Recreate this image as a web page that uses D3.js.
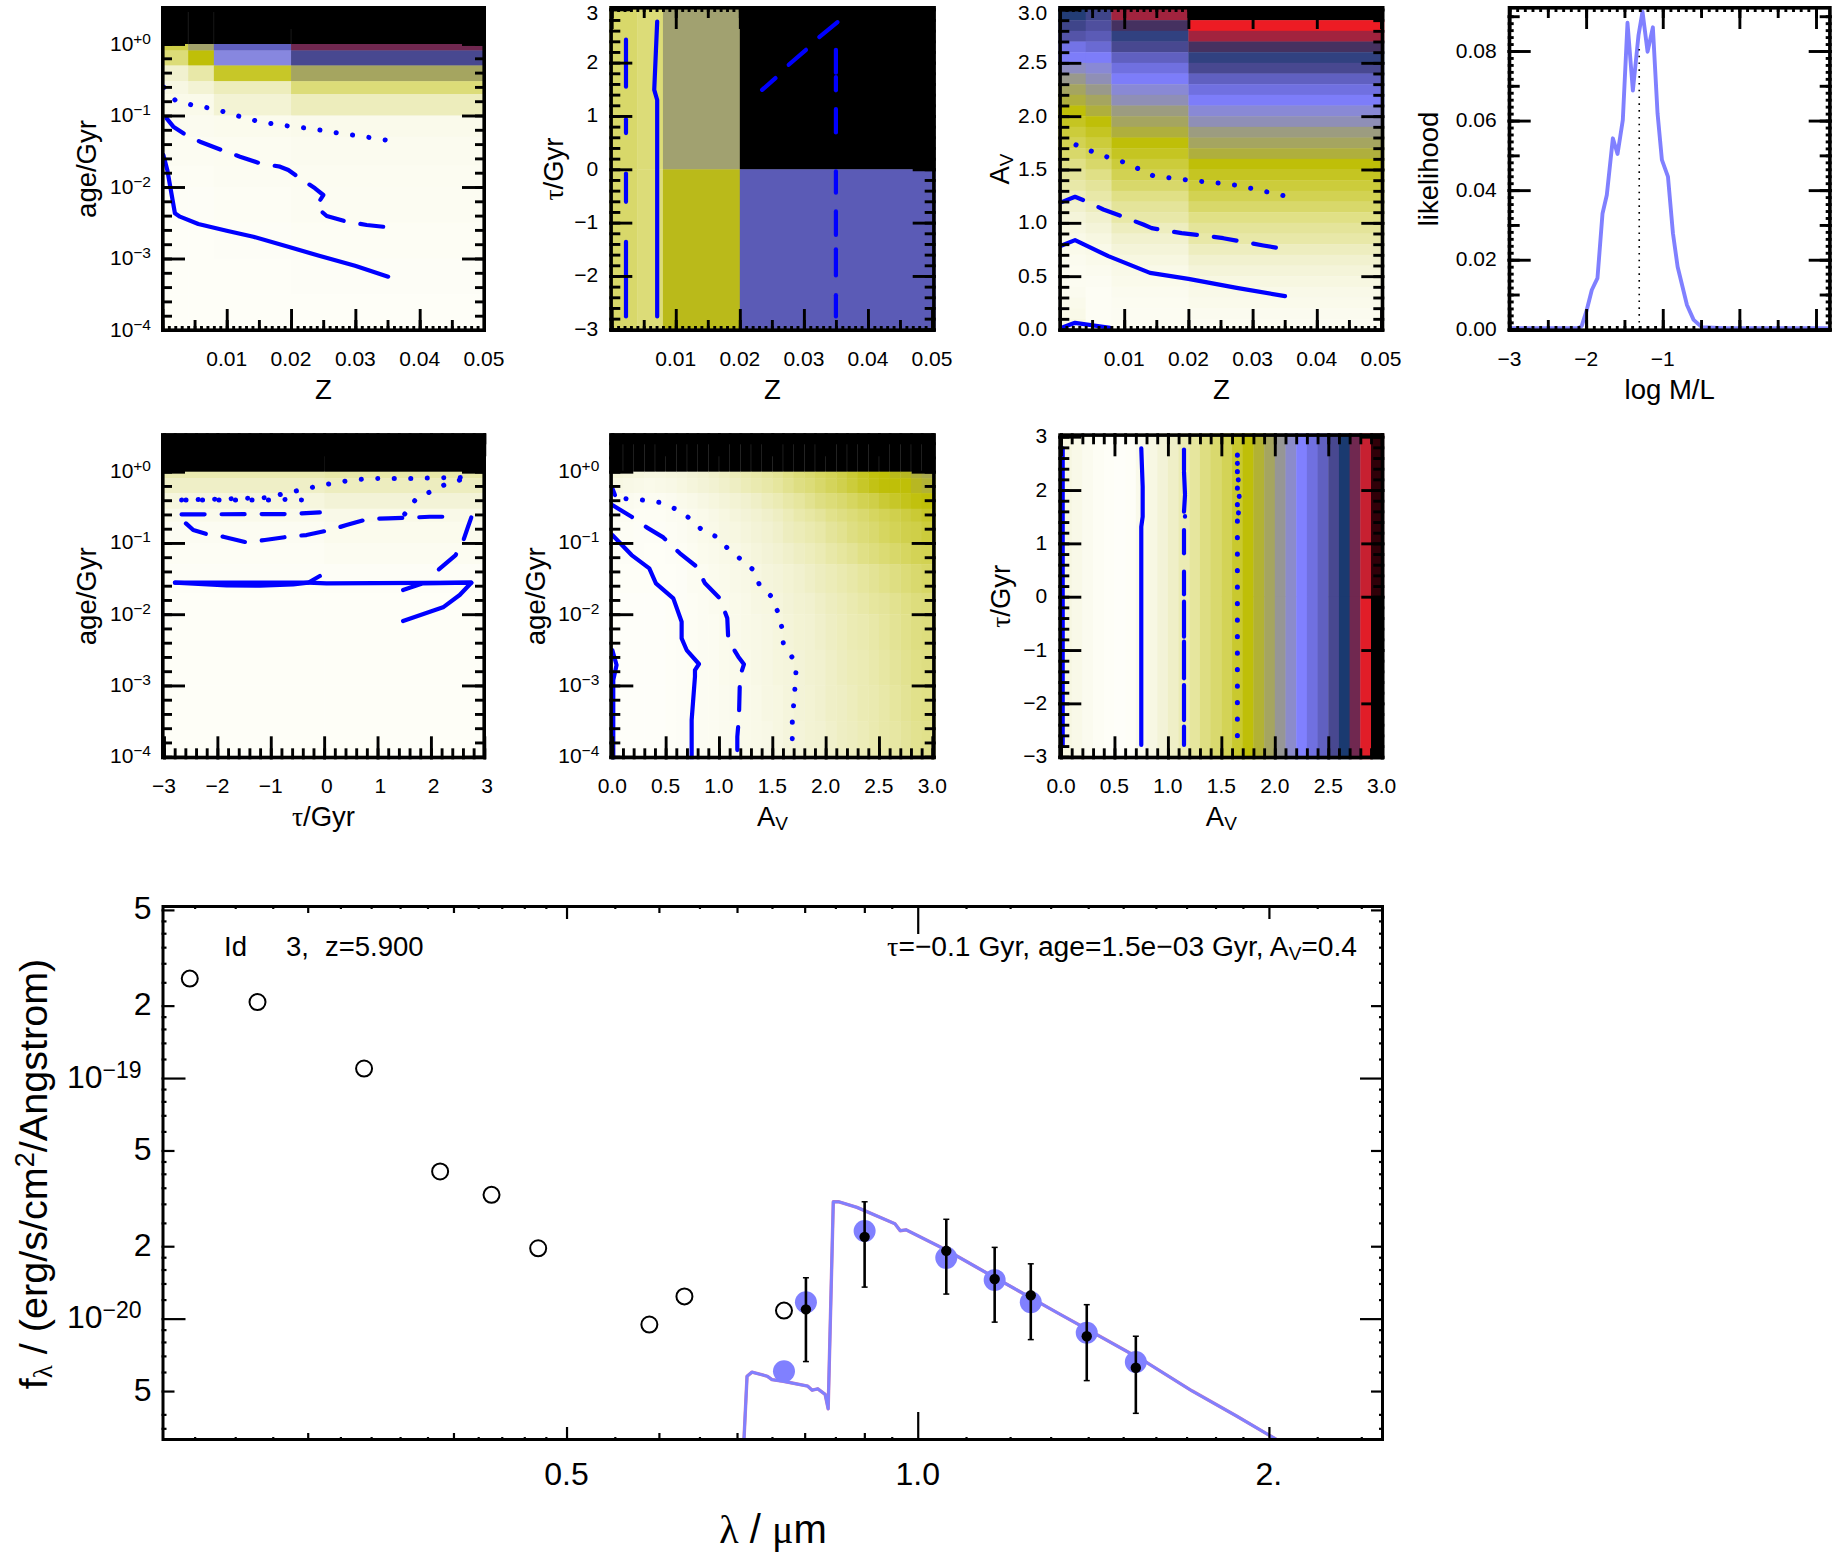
<!DOCTYPE html>
<html><head><meta charset="utf-8">
<script src="https://cdn.jsdelivr.net/npm/d3@7/dist/d3.min.js"></script>
<style>
html,body{margin:0;padding:0;background:#fff}
svg{display:block}
text{font-family:"Liberation Sans",Arial,sans-serif;fill:#000}
.g{font-family:"Liberation Serif",serif}
</style></head><body>
<svg id="c" width="1833" height="1567"></svg>
<script>
// colour levels
const levelStops=[0,1,2,3,4,5,6,7,8,9,10,11,12,13,14,15,16];
const levelColors=["#fefef9","#f9f9e8","#f1f1cf","#e8e8a8","#dcdc78","#cfcf48","#bfbf08","#a5a560","#969696","#8080ff","#6060c0","#484890","#1a3a70","#702850","#ed1c24","#300008","#000000"];

// bin edges
const zEdges=[-0.001,0.004,0.008,0.02,0.052];
const ageEdges1=[0.7,0,-0.09,-0.3,-0.52,-0.7,-1,-1.3,-1.7,-2,-2.5,-3,-3.5,-4.3];
const ageEdges5=[0.7,0,-0.09,-0.3,-0.52,-0.7,-1,-1.3,-1.7,-2,-2.5,-3,-3.5,-4.3];
const ageEdges6=[0.7,0,-0.09,-0.3,-0.52,-0.7,-1,-1.3,-1.7,-2,-2.5,-3,-3.5,-4.3];
const tauEdges=[3.5,0,-3.5];
const tauEdges5=[-3.5,0,3.5];
const avEdges=[-0.1,0.1,0.2,0.3,0.4,0.5,0.6,0.7,0.8,0.9,1,1.1,1.2,1.3,1.4,1.5,1.6,1.7,1.8,1.9,2,2.1,2.2,2.3,2.4,2.5,2.6,2.7,2.8,2.9,3.1];
const avEdgesDown=[3.1,2.9,2.8,2.7,2.6,2.5,2.4,2.3,2.2,2.1,2,1.9,1.8,1.7,1.6,1.5,1.4,1.3,1.2,1.1,1,0.9,0.8,0.7,0.6,0.5,0.4,0.3,0.2,0.1,-0.1];

// panel 1: age vs Z
const zAgeLevels=[[16,16,16,16],[5,7.2,10,13],[4,6,8.7,11],[2,3,5.5,7],[1.2,1.8,2.5,4],[0.9,0.9,1.8,2.5],[0.6,0.6,0.7,0.8],[0.4,0.4,0.5,0.6],[0.3,0.3,0.4,0.5],[0.2,0.2,0.3,0.4],[0.1,0.1,0.2,0.3],[0.1,0.1,0.1,0.2],[0.1,0.1,0.1,0.1]];
const zAgeSolid=[[0.00015,-1.552],[0.00076,-1.762],[0.00195,-2.368],[0.00273,-2.415],[0.00558,-2.517],[0.00999,-2.611],[0.01414,-2.695],[0.01984,-2.844],[0.0245,-2.965],[0.02995,-3.1],[0.0351,-3.254]];
const zAgeDashed=[[0.00066,-1.04],[0.0017,-1.156],[0.00326,-1.249],[0.00585,-1.366],[0.00922,-1.483],[0.01207,-1.576],[0.01518,-1.669],[0.01829,-1.716],[0.01958,-1.762],[0.0214,-1.879],[0.02373,-2.019],[0.02502,-2.112],[0.02388,-2.275],[0.02555,-2.406],[0.02866,-2.485],[0.03177,-2.531],[0.03514,-2.564]];
const zAgeDotted=[[0.00025,-0.606],[0.00196,-0.783],[0.0044,-0.848],[0.00688,-0.89],[0.00948,-0.946],[0.01197,-1.012],[0.01445,-1.072],[0.017,-1.114],[0.01954,-1.147],[0.02219,-1.175],[0.02473,-1.207],[0.02727,-1.245],[0.0298,-1.277],[0.0324,-1.31],[0.035,-1.347]];

// panel 2: tau vs Z
const zTauLevels=[[4.3,4,7.3,16],[4.3,4,6.2,10.2]];
const zTauSolid=[[0.0071,-2.76],[0.0071,1.3],[0.00664,1.49],[0.0071,2.77]];
const zTauDashPieces=[
 [[0.00223,2.43],[0.00223,1.55]],[[0.00223,0.94],[0.00223,0.68]],[[0.00223,-0.08],[0.00223,-0.61]],[[0.00223,-1.36],[0.00223,-2.76]],
 [[0.0350,2.24],[0.0350,1.81]],[[0.0350,1.73],[0.0350,1.48]],[[0.0350,1.13],[0.0350,0.69]],[[0.0350,-0.04],[0.0350,-0.44]],[[0.0350,-0.79],[0.0350,-1.23]],[[0.0350,-1.5],[0.0350,-1.99]],[[0.0350,-2.36],[0.0350,-2.76]],
 [[0.02348,1.49],[0.02556,1.71]],[[0.02763,1.96],[0.03033,2.24]],[[0.0324,2.48],[0.03525,2.76]]];

// panel 3: Av vs Z (columns, top row first)
const zAvCol1=[11.8,11.2,10.5,9.4,9.1,8.4,7.8,7,6.6,6,5.6,5.2,4.8,4.3,3.7,3.3,3,2.4,2,1.6,1.3,1,0.8,0.6,0.5,0.5,0.6,0.8,1,1.2];
const zAvCol2=[11.2,10.7,10.2,9.7,9.1,8.6,8.3,7.8,7,6.6,6,5.6,5.2,4.8,4.3,3.7,3.3,3,2.4,2,1.6,1.3,1,0.8,0.6,0.4,0.3,0.3,0.3,0.3];
const zAvCol3=[13.4,12.5,11.5,11,10,9.5,9.1,8.6,8.3,7.6,7,6.6,6,5.6,5.2,4.8,4.3,3.7,3.3,3,2.4,2,1.6,1.3,1,0.8,0.6,0.5,0.4,0.4];
const zAvCol4=[16,14,13.4,12.5,11.5,11,10,9.5,9.1,8.6,8.3,7.6,7,6.6,6,5.6,5.2,4.8,4.3,3.7,3.3,3,2.4,2,1.6,1.3,1,0.8,0.6,0.5];
const zAvSolid=[[0.00026,0.7875],[0.00234,0.8375],[0.00753,0.6875],[0.01402,0.531],[0.02,0.475],[0.02752,0.39],[0.03505,0.3125]];
const zAvSolid2=[[0.00026,0.016],[0.00234,0.0625],[0.00779,0.016]];
const zAvDashed=[[0.00026,1.194],[0.00234,1.244],[0.00415,1.2],[0.00675,1.125],[0.00987,1.056],[0.01298,0.984],[0.01428,0.95],[0.0161,0.931],[0.01895,0.903],[0.02233,0.881],[0.02544,0.856],[0.02882,0.819],[0.03167,0.7875],[0.03505,0.753]];
const zAvDotted=[[0.00249,1.731],[0.00488,1.672],[0.00727,1.619],[0.00976,1.572],[0.01215,1.509],[0.01443,1.444],[0.01703,1.422],[0.01963,1.403],[0.02222,1.3875],[0.02477,1.372],[0.02736,1.353],[0.02991,1.322],[0.03245,1.2875],[0.035,1.253]];

// panel 4: likelihood
const mlLikelihood=[[-2.993,0.0003],[-2.1,0.0003],[-2.057,0.001],[-1.991,0.0056],[-1.926,0.0113],[-1.852,0.0147],[-1.786,0.0333],[-1.73,0.0386],[-1.651,0.0549],[-1.59,0.0504],[-1.521,0.0602],[-1.46,0.0881],[-1.39,0.0686],[-1.316,0.0846],[-1.264,0.0913],[-1.198,0.0798],[-1.129,0.0868],[-1.068,0.0621],[-1.011,0.0487],[-0.932,0.0439],[-0.867,0.0276],[-0.806,0.018],[-0.684,0.007],[-0.597,0.0027],[-0.488,0.0006],[-0.205,0.0003],[1.146,0.0003]];
const mlBest=[[-1.307,0],[-1.307,0.082]];

// panel 5: age vs tau (columns tau<0, tau>0)
const tauAgeLevels=[[16,16],[2.8,3],[2.2,2.4],[1.4,1.7],[0.8,1],[0.4,0.7],[0.3,0.5],[0.2,0.2],[0.1,0.1],[0.1,0.1],[0.1,0.1],[0.1,0.1],[0.1,0.1]];
const tauAgeSolidA=[[1.478,-2.096],[2.227,-1.904],[2.539,-1.731],[2.757,-1.558],[0.044,-1.567],[-0.3,-1.558],[-2.795,-1.558]];
const tauAgeSolidB=[[-2.795,-1.558],[-1.828,-1.595],[-1.204,-1.6],[-0.58,-1.581],[-0.3,-1.558],[-0.081,-1.464]];
const tauAgeSolidC=[[1.478,-1.661],[1.853,-1.567],[2.757,-1.558]];
const tauAgeDashedA=[[-2.67,-0.599],[-0.643,-0.594],[-0.081,-0.571]];
const tauAgeDashedB=[[-2.589,-0.725],[-2.452,-0.819],[-2.202,-0.875],[-1.89,-0.912],[-1.454,-0.992],[-1.11,-0.959],[-0.674,-0.912],[-0.331,-0.889],[0.106,-0.819],[0.418,-0.749],[0.823,-0.664],[1.198,-0.655],[1.603,-0.646],[1.978,-0.632],[2.414,-0.632]];
const tauAgeDashedC=[[2.757,-0.641],[2.695,-0.772],[2.614,-0.95],[2.464,-1.17],[2.134,-1.38]];
const tauAgeDottedA=[[-2.67,-0.398],[-1.079,-0.365],[-0.78,-0.313],[-0.48,-0.262],[-0.168,-0.211],[0.137,-0.164],[0.449,-0.126],[0.755,-0.103],[1.06,-0.094],[1.372,-0.094],[1.684,-0.094],[1.996,-0.089],[2.308,-0.084],[2.633,-0.08]];
const tauAgeDottedB=[[-2.589,-0.398],[-1.017,-0.398],[-0.692,-0.388],[-0.381,-0.398]];
const tauAgeDottedC=[[1.51,-0.594],[1.697,-0.407],[1.965,-0.29],[2.246,-0.187],[2.539,-0.117],[2.633,-0.08]];

// panel 6: age vs Av (rows top first)
const avAgeLevels=[
 [16,16,16,16,16,16,16,16,16,16,16,16,16,16,16,16,16,16,16,16,16,16,16,16,16,16,16,16,16,16],
 [1.6,1.5,1.4,1.3,1.3,1.4,1.5,1.7,1.9,2.1,2.3,2.6,2.8,3,3.2,3.4,3.7,4,4.2,4.5,4.7,5,5.3,5.6,5.9,6,6.2,6.3,6.6,6.8],
 [1.2,1.1,1,0.9,1,1.1,1.3,1.5,1.7,1.9,2.1,2.3,2.6,2.8,3,3.2,3.5,3.8,4,4.3,4.6,4.9,5.2,5.5,5.8,6,6,6,6.3,6.5],
 [0.7,0.6,0.5,0.5,0.5,0.6,0.8,1,1.2,1.4,1.6,1.8,2,2.2,2.5,2.7,3,3.2,3.5,3.8,4,4.2,4.5,4.8,5,5.3,5.5,5.7,5.9,6],
 [0.4,0.4,0.3,0.3,0.3,0.4,0.5,0.7,0.9,1.1,1.3,1.5,1.7,1.9,2.1,2.3,2.6,2.9,3.1,3.3,3.6,3.8,4,4.2,4.5,4.7,4.9,5.1,5.3,5.5],
 [0.3,0.3,0.2,0.2,0.2,0.3,0.4,0.6,0.8,1,1.2,1.3,1.5,1.7,1.9,2.1,2.4,2.6,2.8,3,3.3,3.5,3.8,4,4.2,4.5,4.7,4.9,5,5.2],
 [0.2,0.2,0.2,0.1,0.1,0.2,0.3,0.5,0.7,0.8,1,1.1,1.3,1.5,1.7,1.9,2.1,2.3,2.5,2.7,3,3.2,3.4,3.7,3.9,4.1,4.3,4.5,4.7,4.8],
 [0.1,0.1,0.1,0.1,0.1,0.1,0.2,0.4,0.5,0.7,0.8,1,1.1,1.3,1.5,1.6,1.8,2,2.2,2.4,2.6,2.8,3,3.2,3.4,3.6,3.8,4,4.2,4.4],
 [0,0,0,0,0,0.1,0.2,0.3,0.4,0.6,0.7,0.9,1,1.2,1.3,1.5,1.7,1.9,2,2.2,2.4,2.6,2.8,3,3.2,3.3,3.5,3.7,3.9,4],
 [0,0,0,0,0,0.1,0.2,0.3,0.4,0.5,0.7,0.8,1,1.1,1.2,1.4,1.6,1.8,1.9,2.1,2.3,2.5,2.7,2.8,3,3.2,3.4,3.6,3.8,3.9],
 [0,0,0,0,0,0.1,0.2,0.3,0.4,0.5,0.7,0.8,0.9,1.1,1.2,1.4,1.5,1.7,1.9,2,2.2,2.4,2.6,2.7,2.9,3.1,3.3,3.5,3.7,3.8],
 [0,0,0,0,0,0.1,0.2,0.3,0.4,0.5,0.6,0.8,0.9,1,1.2,1.3,1.5,1.7,1.8,2,2.2,2.3,2.5,2.7,2.8,3,3.2,3.4,3.6,3.7],
 [0,0,0,0,0,0.1,0.2,0.3,0.4,0.5,0.6,0.7,0.9,1,1.1,1.3,1.5,1.6,1.8,1.9,2.1,2.3,2.4,2.6,2.8,3,3.1,3.3,3.5,3.6]];
const avAgeSolid=[[0.744,-4.1],[0.744,-3.485],[0.775,-2.877],[0.775,-2.784],[0.8125,-2.699],[0.697,-2.503],[0.65,-2.339],[0.65,-2.105],[0.572,-1.778],[0.409,-1.567],[0.347,-1.357],[0.181,-1.17],[0,-0.889]];
const avAgeSolid2=[[0.009,-4.1],[0.009,-2.924],[0.04,-2.713],[0,-2.503]];
const avAgeSolid3=[[0,-0.234],[0.025,-0.327]];
const avAgeDashed=[[0,-0.468],[0.181,-0.632],[0.322,-0.781],[0.478,-0.922],[0.634,-1.146],[0.791,-1.333],[0.869,-1.567],[1.009,-1.778],[1.078,-2.058],[1.0875,-2.363],[1.181,-2.596],[1.234,-2.704],[1.197,-2.877],[1.1875,-3.439],[1.172,-3.719],[1.172,-4.1]];
const avAgeDotted=[[0.128,-0.379],[0.281,-0.398],[0.4375,-0.43],[0.581,-0.515],[0.7125,-0.641],[0.825,-0.795],[0.9625,-0.903],[1.072,-1.062],[1.191,-1.212],[1.3125,-1.366],[1.375,-1.572],[1.484,-1.74],[1.547,-1.951],[1.5875,-2.175],[1.603,-2.405],[1.684,-2.601],[1.722,-2.802],[1.7125,-3.036],[1.7,-3.27],[1.6875,-3.504],[1.6875,-3.738],[1.681,-3.967]];

// panel 7: tau vs Av
const avTauUpper=[1.3,1,0.6,0.3,0.1,0,0.1,0.8,1.2,1.7,2.2,2.7,3.2,3.8,4.2,4.7,5.4,6,6.5,7,8,8.5,9,9.5,10,11,12,13,13.7,15];
const avTauLower=[1.3,1,0.6,0.3,0.1,0,0.1,0.8,1.2,1.7,2.2,2.7,3.2,3.8,4.2,4.7,5.4,6,6.5,7,8,8.5,9,9.5,10,11,12,13,13.9,16];
const avTauSolid=[[0.751,2.78],[0.764,2.06],[0.764,1.5],[0.751,1.31],[0.751,-2.78]];
const avTauSolid2=[[0.016,2.78],[0.016,-2.78]];
const avTauDashPieces=[[[1.1506,2.76],[1.1506,2.375]],[[1.1506,2.34],[1.16,1.925]],[[1.16,1.906],[1.1506,1.594]],[[1.16,1.5],[1.16,1.51]],[[1.1506,1.25],[1.1506,0.8125]],[[1.1506,0.469],[1.1506,0.044]],[[1.1506,-0.094],[1.1506,-0.75]],[[1.1506,-0.844],[1.1506,-1.531]],[[1.1506,-1.656],[1.1506,-2.3125]],[[1.1506,-2.4375],[1.1506,-2.78]]];
const avTauDottedA=[[1.65,-2.606],[1.65,2.72]];
const avTauDottedB=[[1.65,2.5],[1.659,2.156],[1.668,1.844],[1.659,1.531]];

// SED panel (flux in units of 1e-20)
const sedOpen=[[0.2377,25.9],[0.2717,20.7],[0.3353,10.95],[0.3896,4.09],[0.4312,3.27],[0.4728,1.96],[0.5888,0.945],[0.631,1.237],[0.768,1.08]];
const sedModelPts=[[0.768,0.6046],[0.802,1.169],[0.9005,2.312],[1.058,1.789],[1.164,1.447],[1.25,1.169],[1.396,0.874],[1.538,0.66]];
const sedObs=[[0.802,1.093,0.663,1.479],[0.9005,2.188,1.352,3.06],[1.058,1.914,1.265,2.588],[1.164,1.462,0.967,1.978],[1.25,1.25,0.818,1.69],[1.396,0.845,0.5525,1.143],[1.538,0.625,0.404,0.845]];
const sedSpectrum=[[0.7096,0.31],[0.714,0.576],[0.721,0.599],[0.7434,0.576],[0.75,0.558],[0.767,0.549],[0.805,0.524],[0.812,0.504],[0.821,0.511],[0.833,0.484],[0.838,0.422],[0.8465,3.06],[0.856,3.06],[0.887,2.9],[0.956,2.48],[0.966,2.32],[0.977,2.34],[1.058,1.93],[1.136,1.585],[1.208,1.34],[1.319,1.054],[1.44,0.832],[1.573,0.655],[1.718,0.501],[1.876,0.394],[2.04,0.31]];
const sedXLabels=[[0.5,"0.5"],[1,"1.0"],[2,"2."]];
const sedYLabels=[[50,"5"],[20,"2"],[10,"10","−19"],[5,"5"],[2,"2"],[1,"10","−20"],[0.5,"5"]];

const ageLabels=[[0,"+0"],[-1,"−1"],[-2,"−2"],[-3,"−3"],[-4,"−4"]];
const zLabels=[0.01,0.02,0.03,0.04,0.05];
const tauLabels=[-3,-2,-1,0,1,2,3];
const avLabels=[0,0.5,1,1.5,2,2.5,3];
const likeLabels=[0,0.02,0.04,0.06,0.08];
const mlLabels=[-3,-2,-1];

const svg=d3.select("#c");
const color=d3.scaleLinear().domain(levelStops).range(levelColors);
const rng=(a,b,s)=>{const n=Math.round((b-a)/s);return d3.range(0,n+1).map(i=>+(a+i*s).toFixed(5));};
const zTicks=[[rng(0,0.05,0.001),6],[rng(0,0.05,0.005),12],[rng(0,0.05,0.01),23]];
const tauTicks=[[rng(-3,3,0.2),11],[rng(-3,3,1),23]];
const avTicks=[[rng(0,3,0.1),11],[rng(0,3,0.5),23]];
const ageTicks=[[rng(-4,0.4,0.2),11],[rng(-4,0,1),24]];
const mlTicks=[[rng(-3,1,0.1),6],[rng(-3,1,0.5),12],[rng(-3,1,1),23]];
const likeTicks=[[rng(0,0.09,0.002),6],[rng(0,0.09,0.01),12],[rng(0,0.08,0.02),23]];

const fmtMinus=s=>String(s).replace("-","−");
const TF=21;
let clipN=0;
function panel(o){
  const [X0,Y0,X1,Y1]=o.frame;
  const x=d3.scaleLinear().domain(o.xd).range(o.xr);
  const y=d3.scaleLinear().domain(o.yd).range(o.yr);
  const g=svg.append("g");
  const id="clip"+(clipN++);
  svg.append("clipPath").attr("id",id).append("rect").attr("x",X0).attr("y",Y0).attr("width",X1-X0).attr("height",Y1-Y0);
  const body=g.append("g").attr("clip-path",`url(#${id})`);
  if(o.cells){
    const {xe,ye,m}=o.cells;
    m.forEach((row,j)=>row.forEach((v,i)=>{
      const a=x(xe[i]),b=x(xe[i+1]),c=y(ye[j]),d=y(ye[j+1]);
      const r=body.append("rect").attr("x",Math.min(a,b)).attr("y",Math.min(c,d)).attr("width",Math.abs(b-a)+0.4).attr("height",Math.abs(d-c)+0.4).attr("fill",color(v));
      if(v>=16&&o.seam) r.attr("stroke",o.seam).attr("stroke-width",0.6);
    }));
  }
  const line=d3.line().x(d=>x(d[0])).y(d=>y(d[1]));
  const blue="#0000ff";
  const sty={s:null,d:"23 17",o:"0.1 16.4"};
  (o.lines||[]).forEach(l=>{
    body.append("path").datum(l[0]).attr("d",line).attr("fill","none").attr("stroke",l[2]||blue)
      .attr("stroke-width",l[3]||(l[1]==="o"?5:4.2)).attr("stroke-linecap","round").attr("stroke-linejoin","round")
      .attr("stroke-dasharray",sty[l[1]]);
  });
  // ticks through d3 axes
  const tickG=g.append("g");
  const add=(axisFn,scale,vals,len,tx)=>{
    const a=tickG.append("g").attr("transform",tx).call(axisFn(scale).tickValues(vals).tickSize(-len).tickFormat(""));
    a.select(".domain").remove();
    a.selectAll("line").attr("stroke","#000").attr("stroke-width",2.9);
    a.selectAll("text").remove();
  };
  o.xt.forEach(([v,l])=>{add(d3.axisBottom,x,v,l,`translate(0,${Y1})`);add(d3.axisTop,x,v,l,`translate(0,${Y0})`);});
  o.yt.forEach(([v,l])=>{add(d3.axisLeft,y,v,l,`translate(${X0},0)`);add(d3.axisRight,y,v,l,`translate(${X1},0)`);});
  const sw=3.6;
  g.append("rect").attr("x",X0+sw/2).attr("y",Y0+sw/2).attr("width",X1-X0-sw).attr("height",Y1-Y0-sw).attr("fill","none").attr("stroke","#000").attr("stroke-width",sw);
  // labels
  o.xl.forEach(v=>{
    svg.append("text").attr("x",x(v)+(v>=0?(o.posShift||0):0)).attr("y",Y1+34).attr("text-anchor","middle").attr("font-size",TF).text(o.xf(v));
  });
  o.yl.forEach(v=>{
    if(o.logY){
      const t=svg.append("text").attr("x",X0-10).attr("y",y(v[0])+6.5).attr("text-anchor","end").attr("font-size",TF);
      t.append("tspan").text("10");
      t.append("tspan").attr("dy",-7).attr("font-size",15.5).text(v[1]);
    } else {
      svg.append("text").attr("x",X0-11).attr("y",Math.max(y(v)+6.5,19.6)).attr("text-anchor","end").attr("font-size",TF).text(o.yf(v));
    }
  });
  title(o.xtitle,(X0+X1)/2+(o.xtShift||0),Y1+67,false);
  title(o.ytitle,o.ytX,o.ytY||(Y0+Y1)/2,true);
}
function title(kind,px,py,rot){
  const t=svg.append("text").attr("text-anchor","middle").attr("font-size",27.5);
  if(rot) t.attr("transform",`translate(${px},${py}) rotate(-90)`); else t.attr("x",px).attr("y",py);
  if(kind==="age") t.text("age/Gyr");
  if(kind==="Z") t.text("Z");
  if(kind==="log") t.text("log M/L");
  if(kind==="like") t.text("likelihood");
  if(kind==="tau"){t.append("tspan").attr("class","g").text("τ");t.append("tspan").text("/Gyr");}
  if(kind==="Av"){t.append("tspan").text("A");t.append("tspan").attr("dy",4).attr("font-size",19).text("V");}
}
const row1=[6,332],row2=[433.3,759.3];
const cols=[[161,486],[609.3,935.7],[1058.3,1384.3],[1507.7,1831.7]];
const fZ=v=>v.toFixed(2), fAv=v=>v.toFixed(1), fTau=v=>fmtMinus(v), fL=v=>v.toFixed(2);

panel({frame:[cols[0][0],row1[0],cols[0][1],row1[1]],xd:[0,0.05],xr:[162.4,484],yd:[0,-4],yr:[44,330],
 cells:{xe:zEdges,ye:ageEdges1,m:zAgeLevels},seam:"#262626",
 lines:[[zAgeSolid,"s"],[zAgeDashed,"d"],[zAgeDotted,"o"]],
 xt:zTicks,yt:ageTicks,xl:zLabels,xf:fZ,yl:ageLabels,logY:true,xtitle:"Z",ytitle:"age",ytX:96});

panel({frame:[cols[1][0],row1[0],cols[1][1],row1[1]],xd:[0,0.05],xr:[611.7,932],yd:[3,-3],yr:[9.3,329.3],
 cells:{xe:zEdges,ye:tauEdges,m:zTauLevels},
 lines:[[zTauSolid,"s"]].concat(zTauDashPieces.map(p=>[p,"s"])),
 xt:zTicks,yt:tauTicks,xl:zLabels,xf:fZ,yl:tauLabels,yf:fTau,xtitle:"Z",ytitle:"tau",ytX:563});

panel({frame:[cols[2][0],row1[0],cols[2][1],row1[1]],xd:[0,0.05],xr:[1060,1381],yd:[3,0],yr:[9.5,329.5],
 cells:{xe:zEdges,ye:avEdgesDown,m:d3.transpose([zAvCol1,zAvCol2,zAvCol3,zAvCol4])},
 lines:[[zAvSolid,"s"],[zAvSolid2,"s"],[zAvDashed,"d"],[zAvDotted,"o"]],
 xt:zTicks,yt:avTicks,xl:zLabels,xf:fZ,yl:avLabels,yf:fAv,xtitle:"Z",ytitle:"Av",ytX:1008.5});

panel({frame:[cols[3][0],row1[0],cols[3][1],row1[1]],xd:[-3,1],xr:[1509.5,1816],yd:[0,0.08],yr:[329.3,51],
 lines:[[mlLikelihood,"s","#8080ff",3.9]],
 xt:mlTicks,yt:likeTicks,xl:mlLabels,xf:fTau,yl:likeLabels,yf:fL,xtitle:"log",ytitle:"like",ytX:1438});
// best-fit marker in the likelihood panel
(function(){
  const x=d3.scaleLinear().domain([-3,1]).range([1509.5,1816]),y=d3.scaleLinear().domain([0,0.08]).range([329.3,51]);
  svg.append("path").datum(mlBest).attr("d",d3.line().x(d=>x(d[0])).y(d=>y(d[1]))).attr("fill","none").attr("stroke","#000").attr("stroke-width",1.6).attr("stroke-dasharray","1.6 5.2");
})();

panel({frame:[cols[0][0],row2[0],cols[0][1],row2[1]],xd:[-3,3],xr:[164,484.3],yd:[0,-4],yr:[471.7,756.7],
 cells:{xe:tauEdges5,ye:ageEdges5,m:tauAgeLevels},
 lines:[[tauAgeSolidA,"s"],[tauAgeSolidB,"s"],[tauAgeSolidC,"s"],[tauAgeDashedA,"d"],[tauAgeDashedB,"d"],[tauAgeDashedC,"d"],[tauAgeDottedA,"o"],[tauAgeDottedB,"o"],[tauAgeDottedC,"o"]],
 xt:tauTicks,yt:ageTicks,xl:tauLabels,xf:fTau,posShift:2.8,yl:ageLabels,logY:true,xtitle:"tau",ytitle:"age",ytX:96});

panel({frame:[cols[1][0],row2[0],cols[1][1],row2[1]],xd:[0,3],xr:[612.3,932.3],yd:[0,-4],yr:[471.7,756.7],
 cells:{xe:avEdges,ye:ageEdges6,m:avAgeLevels},seam:"#303030",
 lines:[[avAgeSolid,"s"],[avAgeSolid2,"s"],[avAgeSolid3,"s"],[avAgeDashed,"d"],[avAgeDotted,"o"]],
 xt:avTicks,yt:ageTicks,xl:avLabels,xf:fAv,yl:ageLabels,logY:true,xtitle:"Av",ytitle:"age",ytX:545});

panel({frame:[cols[2][0],row2[0],cols[2][1],row2[1]],xd:[0,3],xr:[1061,1381.7],yd:[3,-3],yr:[436.7,756.7],
 cells:{xe:avEdges,ye:tauEdges,m:[avTauUpper,avTauLower]},
 lines:[[avTauSolid,"s"],[avTauSolid2,"s"],[avTauDottedA,"o"],[avTauDottedB,"o"]].concat(avTauDashPieces.map(p=>[p,"s"])),
 xt:avTicks,yt:tauTicks,xl:avLabels,xf:fAv,yl:tauLabels,yf:fTau,xtitle:"Av",ytitle:"tau",ytX:1010});

// SED panel
(function(){
  const X0=161.5,X1=1384,Y0=905,Y1=1441;
  const x=d3.scaleLog().domain([0.2248,2.51]).range([X0,X1]);
  const y=d3.scaleLog().domain([0.31,52.4]).range([Y1,Y0]);
  svg.append("clipPath").attr("id","sedclip").append("rect").attr("x",X0).attr("y",Y0).attr("width",X1-X0).attr("height",Y1-Y0);
  const g=svg.append("g");
  const body=g.append("g").attr("clip-path","url(#sedclip)");
  const line=d3.line().x(d=>x(d[0])).y(d=>y(d[1]));
  body.append("path").datum(sedSpectrum).attr("d",line).attr("fill","none").attr("stroke","#c878b8").attr("stroke-width",3.4).attr("stroke-linejoin","round");
  body.append("path").datum(sedSpectrum).attr("d",line).attr("fill","none").attr("stroke","#8080ff").attr("stroke-width",2.8).attr("stroke-linejoin","round");
  body.selectAll(".m").data(sedModelPts).join("circle").attr("cx",d=>x(d[0])).attr("cy",d=>y(d[1])).attr("r",11).attr("fill","#8080ff");
  body.selectAll(".o").data(sedOpen).join("circle").attr("cx",d=>x(d[0])).attr("cy",d=>y(d[1])).attr("r",8).attr("fill","none").attr("stroke","#000").attr("stroke-width",2);
  sedObs.forEach(d=>{
    const cx=x(d[0]);
    body.append("line").attr("x1",cx).attr("x2",cx).attr("y1",y(d[2])).attr("y2",y(d[3])).attr("stroke","#000").attr("stroke-width",2.6);
    [d[2],d[3]].forEach(v=>body.append("line").attr("x1",cx-3).attr("x2",cx+3).attr("y1",y(v)).attr("y2",y(v)).attr("stroke","#000").attr("stroke-width",1.5));
    body.append("circle").attr("cx",cx).attr("cy",y(d[1])).attr("r",5.2).attr("fill","#000");
  });
  const xMinor=[0.24,0.26,0.28,0.32,0.34,0.36,0.38,0.42,0.44,0.46,0.48,0.55,0.65,0.75,0.85,0.95,1.1,1.2,1.3,1.4,1.5,1.6,1.7,1.8,1.9,2.2,2.4];
  const xMed=[0.3,0.4,0.6,0.7,0.8,0.9];
  const yMinor=[0.35,0.4,0.6,0.7,0.8,0.9,1.2,1.4,1.6,1.8,2.5,3,3.5,4,4.5,6,7,8,9,12,14,16,18,25,30,35,40,45];
  const tick=(fn,s,vals,len,tx)=>{
    const a=g.append("g").attr("transform",tx).call(fn(s).tickValues(vals).tickSize(-len).tickFormat(""));
    a.select(".domain").remove();a.selectAll("line").attr("stroke","#000").attr("stroke-width",2.2);a.selectAll("text").remove();
  };
  [[xMinor,4],[xMed,8],[[0.5,2],14],[[1],29]].forEach(([v,l])=>{tick(d3.axisBottom,x,v,l,`translate(0,${Y1})`);tick(d3.axisTop,x,v,l,`translate(0,${Y0})`);});
  [[yMinor,5],[[0.5,2,5,20,50],13],[[1,10],24]].forEach(([v,l])=>{tick(d3.axisLeft,y,v,l,`translate(${X0},0)`);tick(d3.axisRight,y,v,l,`translate(${X1},0)`);});
  g.append("rect").attr("x",X0+1.5).attr("y",Y0+1.5).attr("width",X1-X0-3).attr("height",Y1-Y0-3).attr("fill","none").attr("stroke","#000").attr("stroke-width",3);
  sedXLabels.forEach(d=>svg.append("text").attr("x",x(d[0])).attr("y",Y1+44).attr("text-anchor","middle").attr("font-size",32).text(d[1]));
  sedYLabels.forEach(d=>{
    const t=svg.append("text").attr("x",d[2]?X0-20:X0-10).attr("y",y(d[0])+9.5).attr("text-anchor","end").attr("font-size",32).text(d[1]);
    if(d[2]) t.append("tspan").attr("dy",-10).attr("font-size",23).text(d[2]);
  });
  const xt=svg.append("text").attr("x",773).attr("y",1543).attr("text-anchor","middle").attr("font-size",40);
  xt.append("tspan").attr("class","g").text("λ");
  xt.append("tspan").text(" / ");
  xt.append("tspan").attr("class","g").text("μ");
  xt.append("tspan").text("m");
  const yt=svg.append("text").attr("transform","translate(47,1174) rotate(-90)").attr("text-anchor","middle").attr("font-size",39.6);
  yt.append("tspan").text("f");
  yt.append("tspan").attr("class","g").attr("font-size",27).attr("dy",5).text("λ");
  yt.append("tspan").attr("dy",-5).text(" / (erg/s/cm");
  yt.append("tspan").attr("dy",-13).attr("font-size",27).text("2");
  yt.append("tspan").attr("dy",13).text("/Angstrom)");
  const fs=27.5;
  svg.append("text").attr("x",224).attr("y",956).attr("font-size",fs).text("Id");
  svg.append("text").attr("x",286).attr("y",956).attr("font-size",fs).text("3,");
  svg.append("text").attr("x",325).attr("y",956).attr("font-size",fs).text("z=5.900");
  const ann=svg.append("text").attr("x",1357).attr("y",956).attr("text-anchor","end").attr("font-size",28.2);
  ann.append("tspan").attr("class","g").text("τ");
  ann.append("tspan").text("=−0.1 Gyr, age=1.5e−03 Gyr, A");
  ann.append("tspan").attr("dy",4).attr("font-size",19).text("V");
  ann.append("tspan").attr("dy",-4).text("=0.4");
})();
</script>
</body></html>
